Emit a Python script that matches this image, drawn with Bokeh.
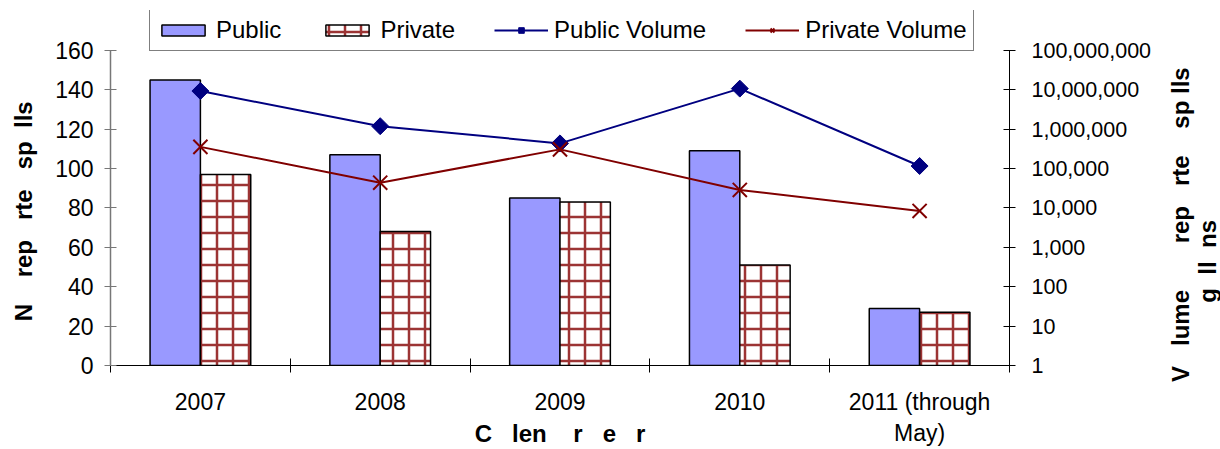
import numpy as np
from bokeh.plotting import figure
from bokeh.layouts import row
from bokeh.models import (Range1d, LogAxis, LogScale, FixedTicker,
                          NumeralTickFormatter, Legend, LegendItem)
from bokeh.embed import file_html
from bokeh.resources import INLINE

# ---- data ----
years = ["2007", "2008", "2009", "2010", "2011 (through\nMay)"]
public_spills = [145, 107, 85, 109, 29]
private_spills = [97, 68, 83, 51, 27]
public_volume = [9_300_000, 1_190_000, 435_000, 10_700_000, 116_000]
private_volume = [355_000, 43_700, 307_000, 28_600, 8_400]
left_ticks = [0, 20, 40, 60, 80, 100, 120, 140, 160]
right_ticks = [1, 10, 100, 1_000, 10_000, 100_000, 1_000_000, 10_000_000, 100_000_000]

NB = "\u00a0"
def gap(k):
    return NB * k
left_title = "N" + gap(4) + "rep" + gap(3) + "rte" + gap(3) + "sp" + gap(2) + "lls" + gap(7)
right_title = ("V" + gap(3) + "lume" + gap(7) + "rep" + gap(3) + "rte" + gap(4) + "sp"
               + gap(1) + "lls" + gap(11) + "\n" + "g" + gap(2) + "ll" + gap(2) + "ns"
               + gap(22))
bottom_title = "C" + gap(3) + "len" + gap(4) + "r" + gap(3) + "e" + gap(3) + "r"

FONT = "Liberation Sans"
FS = "23px"
RFS = "21.5px"
TFS = "24px"

n = len(years)
xc = np.arange(n) + 0.5
bw = 0.28

# frame is extended 40px above the top tick so that the legend (drawn in the frame) fits
top_px, axis_px = 40.0, 316.0
y_top = left_ticks[-1] * (1 + top_px / axis_px)
v_top = right_ticks[-1] * (right_ticks[-1] / right_ticks[0]) ** (top_px / axis_px)

p = figure(width=1170, height=449, output_backend="svg", toolbar_location=None,
           x_range=Range1d(0, n), y_range=Range1d(left_ticks[0], y_top),
           min_border_left=110, min_border_right=161, min_border_top=10,
           min_border_bottom=83)
p.extra_y_ranges = {"vol": Range1d(right_ticks[0], v_top)}
p.extra_y_scales = {"vol": LogScale()}
p.outline_line_color = None
p.xgrid.visible = False
p.ygrid.visible = False
p.background_fill_color = "white"

pub = p.vbar(x=xc - bw / 2, width=bw, top=public_spills, bottom=0,
             fill_color="#9999FF", line_color="black", line_width=1.5)
priv = p.vbar(x=xc + bw / 2, width=bw, top=private_spills, bottom=0,
              fill_color="white", line_color="black", line_width=1.5,
              hatch_pattern="+", hatch_color="#8B1010", hatch_alpha=0.85,
              hatch_scale=16, hatch_weight=2.5)

pl = p.line(xc, public_volume, y_range_name="vol", line_color="#000080", line_width=2)
pm = p.scatter(xc, public_volume, y_range_name="vol", marker="square", angle=np.pi / 4,
               size=12, fill_color="#000080", line_color="#000080")
vl = p.line(xc, private_volume, y_range_name="vol", line_color="#800000", line_width=2)
vm = p.scatter(xc, private_volume, y_range_name="vol", marker="x", size=20,
               line_color="#800000", line_width=2)

# x axis
xa = p.xaxis[0]
xa.ticker = FixedTicker(ticks=list(xc), minor_ticks=list(range(n + 1)))
xa.major_label_overrides = {float(v): lab for v, lab in zip(xc, years)}
xa.major_tick_in = 0
xa.major_tick_out = 0
xa.minor_tick_in = 7
xa.minor_tick_out = 7
xa.minor_tick_line_color = "black"
xa.axis_line_color = "black"
xa.major_label_standoff = 16
xa.major_label_text_font = FONT
xa.major_label_text_font_size = FS
xa.major_label_text_color = "black"
xa.axis_label = bottom_title
xa.axis_label_text_font = FONT
xa.axis_label_text_font_size = TFS
xa.axis_label_text_font_style = "bold"
xa.axis_label_text_color = "black"
xa.axis_label_standoff = -29

# left axis
ya = p.yaxis[0]
ya.ticker = FixedTicker(ticks=left_ticks)
ya.bounds = (left_ticks[0], left_ticks[-1])
ya.major_tick_in = 6
ya.major_tick_out = 6
ya.minor_tick_line_color = None
ya.axis_line_color = "#777777"
ya.major_tick_line_color = "#777777"
ya.axis_line_width = 1.5
ya.major_label_standoff = 11
ya.major_label_text_font = FONT
ya.major_label_text_font_size = FS
ya.major_label_text_color = "black"
ya.axis_label = left_title
ya.axis_label_text_font = FONT
ya.axis_label_text_font_size = TFS
ya.axis_label_text_font_style = "bold"
ya.axis_label_text_color = "black"
ya.axis_label_standoff = 15

# right axis (ticks only; its title is drawn by the narrow companion figure)
ra = LogAxis(y_range_name="vol", ticker=FixedTicker(ticks=right_ticks),
             formatter=NumeralTickFormatter(format="0,0"))
ra.bounds = (right_ticks[0], right_ticks[-1])
ra.major_tick_in = 6
ra.major_tick_out = 6
ra.minor_tick_line_color = None
ra.axis_line_color = "black"
ra.major_label_standoff = 16
ra.major_label_text_font = FONT
ra.major_label_text_font_size = RFS
ra.major_label_text_color = "black"
p.add_layout(ra, "right")

legend = Legend(items=[
    LegendItem(label="Public", renderers=[pub]),
    LegendItem(label="Private", renderers=[priv]),
    LegendItem(label="Public Volume", renderers=[pl, pm]),
    LegendItem(label="Private Volume", renderers=[vl, vm]),
], location=(39, 314), orientation="horizontal")
legend.label_text_font = FONT
legend.label_text_font_size = "24px"
legend.label_text_color = "black"
legend.glyph_width = 54
legend.glyph_height = 14
legend.label_standoff = 6
legend.spacing = 39
legend.padding = 6
legend.margin = 0
legend.border_line_color = "black"
legend.border_line_width = 1
legend.background_fill_color = "white"
legend.background_fill_alpha = 1
p.add_layout(legend)

# companion strip holding the right-hand axis title (reads bottom-to-top)
p2 = figure(width=50, height=449, output_backend="svg", toolbar_location=None,
            x_range=Range1d(0, 1), y_range=Range1d(0, 1),
            min_border_left=46, min_border_right=0, min_border_top=10,
            min_border_bottom=83)
p2.outline_line_color = None
p2.xgrid.visible = False
p2.ygrid.visible = False
p2.xaxis.visible = False
ta = p2.yaxis[0]
ta.ticker = FixedTicker(ticks=[])
ta.major_tick_in = 0
ta.major_tick_out = 0
ta.minor_tick_line_color = None
ta.major_tick_line_color = None
ta.axis_line_color = None
ta.major_label_standoff = 0
ta.axis_label = right_title
ta.axis_label_standoff = 0
ta.axis_label_text_font = FONT
ta.axis_label_text_font_size = TFS
ta.axis_label_text_font_style = "bold"
ta.axis_label_text_color = "black"
ta.axis_label_text_line_height = 1.0

layout = row(p, p2, spacing=0)
open("out.html", "w").write(file_html(layout, INLINE))
